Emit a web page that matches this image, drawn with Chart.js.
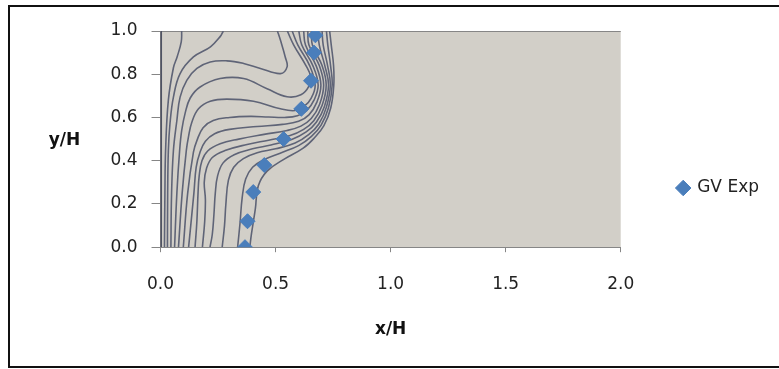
<!DOCTYPE html>
<html>
<head>
<meta charset="utf-8">
<script src="https://cdn.jsdelivr.net/npm/chart.js@4.4.1/dist/chart.umd.min.js"></script>
<style>
  html, body { margin: 0; padding: 0; background: #fff; overflow: hidden; }
  #frame { position: absolute; left: 8px; top: 5px; width: 900px; height: 359px; border: 2px solid #111; }
  #myChart { position: absolute; left: 0; top: 0; }
</style>
</head>
<body>
<div id="frame"></div>
<canvas id="myChart" width="779" height="369"></canvas>
<script>
// GV Exp (experimental points)
const gvLabel = 'GV Exp';
const gvX = [0.673, 0.667, 0.654, 0.612, 0.535, 0.451, 0.403, 0.378, 0.367];
const gvY = [0.98, 0.90, 0.77, 0.64, 0.50, 0.38, 0.255, 0.12, 0.0];

const xTickLabels = ['0.0', '0.5', '1.0', '1.5', '2.0'];
const yTickLabels = ['0.0', '0.2', '0.4', '0.6', '0.8', '1.0'];
const xTitle = 'x/H';
const yTitle = 'y/H';

// contour lines behind the points, [x/H, y/H]
const wall = [[0, 0], [0, 1]];
const contourA = [[0.092,1.0],[0.090,0.95],[0.072,0.88],[0.056,0.83],[0.034,0.68],[0.022,0.45],[0.019,0.25],[0.017,0.0]];
const contourB = [[0.273,1.0],[0.259,0.974],[0.217,0.927],[0.143,0.88],[0.085,0.803],[0.056,0.694],[0.041,0.571],[0.034,0.447],[0.031,0.25],[0.030,0.0]];
const contourW1 = [[0.508,1.0],[0.521,0.958],[0.542,0.88],[0.55,0.834],[0.521,0.803],[0.434,0.827],[0.361,0.85],[0.288,0.862],[0.216,0.857],[0.158,0.827],[0.114,0.772],[0.085,0.694],[0.071,0.586],[0.056,0.447],[0.048,0.25],[0.045,0.0]];
const contourW2 = [[0.551,1.0],[0.579,0.935],[0.632,0.84],[0.652,0.79],[0.645,0.745],[0.61,0.705],[0.55,0.696],[0.463,0.733],[0.361,0.78],[0.259,0.78],[0.172,0.741],[0.129,0.69],[0.107,0.62],[0.092,0.54],[0.083,0.447],[0.071,0.25],[0.061,0.0]];
const contourW3 = [[0.572,1.0],[0.597,0.935],[0.648,0.84],[0.672,0.75],[0.655,0.69],[0.625,0.652],[0.585,0.632],[0.521,0.64],[0.404,0.675],[0.288,0.685],[0.216,0.675],[0.165,0.64],[0.136,0.578],[0.121,0.508],[0.112,0.447],[0.094,0.25],[0.078,0.0]];
const contourW4 = [[0.601,1.0],[0.614,0.935],[0.662,0.84],[0.685,0.75],[0.667,0.68],[0.635,0.632],[0.595,0.608],[0.54,0.6],[0.47,0.602],[0.39,0.605],[0.30,0.6],[0.229,0.586],[0.185,0.553],[0.158,0.493],[0.143,0.44],[0.118,0.25],[0.099,0.0]];
const contourW5 = [[0.622,1.0],[0.63,0.935],[0.676,0.84],[0.697,0.75],[0.679,0.67],[0.645,0.612],[0.6,0.582],[0.53,0.568],[0.42,0.558],[0.3,0.545],[0.235,0.525],[0.195,0.49],[0.172,0.44],[0.155,0.37],[0.145,0.25],[0.122,0.0]];
const contourW6 = [[0.640,1.0],[0.645,0.935],[0.69,0.84],[0.709,0.75],[0.691,0.66],[0.655,0.595],[0.61,0.56],[0.55,0.54],[0.45,0.522],[0.34,0.5],[0.259,0.478],[0.205,0.445],[0.18,0.4],[0.168,0.33],[0.163,0.25],[0.158,0.12],[0.15,0.0]];
const contourW7 = [[0.657,1.0],[0.66,0.935],[0.702,0.84],[0.72,0.75],[0.702,0.655],[0.666,0.585],[0.622,0.545],[0.56,0.515],[0.47,0.495],[0.376,0.475],[0.28,0.447],[0.225,0.415],[0.2,0.365],[0.19,0.3],[0.195,0.22],[0.192,0.12],[0.182,0.0]];
const contourW8 = [[0.684,1.0],[0.69,0.935],[0.714,0.84],[0.73,0.75],[0.712,0.65],[0.677,0.578],[0.633,0.533],[0.57,0.498],[0.48,0.473],[0.4,0.455],[0.32,0.428],[0.272,0.39],[0.248,0.33],[0.238,0.25],[0.232,0.15],[0.225,0.06],[0.215,0.0]];
const contourW9 = [[0.702,1.0],[0.707,0.935],[0.726,0.84],[0.738,0.75],[0.721,0.648],[0.688,0.57],[0.645,0.522],[0.585,0.482],[0.5,0.455],[0.42,0.437],[0.36,0.41],[0.318,0.37],[0.295,0.31],[0.284,0.2],[0.278,0.1],[0.268,0.0]];
const contourL = [[0.721,1.0],[0.727,0.935],[0.739,0.84],[0.746,0.75],[0.73,0.645],[0.698,0.565],[0.656,0.513],[0.6,0.47],[0.52,0.435],[0.45,0.405],[0.4,0.37],[0.37,0.315],[0.355,0.23],[0.345,0.106],[0.335,0.0]];
const contourR = [[0.735,1.0],[0.742,0.935],[0.752,0.84],[0.753,0.75],[0.74,0.645],[0.71,0.562],[0.668,0.505],[0.62,0.458],[0.534,0.405],[0.463,0.352],[0.425,0.284],[0.412,0.177],[0.395,0.06],[0.388,0.0]];

const contours = [contourA, contourB, contourW1, contourW2, contourW3, contourW4, contourW5,
  contourW6, contourW7, contourW8, contourW9, contourL, contourR];

Chart.defaults.font.family = '"DejaVu Sans", sans-serif';
Chart.defaults.font.size = 17;
Chart.defaults.color = '#222';

const plotBackground = {
  id: 'plotBackground',
  beforeDraw(chart) {
    const { ctx, chartArea: a } = chart;
    ctx.save();
    ctx.fillStyle = '#d2cfc8';
    ctx.fillRect(a.left, a.top, a.width, a.height);
    ctx.restore();
  },
  afterDraw(chart) {
    // the y title is written flat, not turned
    const { ctx, chartArea: a } = chart;
    ctx.save();
    ctx.font = 'bold 17px "DejaVu Sans", sans-serif';
    ctx.fillStyle = '#111';
    ctx.textAlign = 'center';
    ctx.textBaseline = 'middle';
    ctx.fillText(yTitle, a.left - 96, (a.top + a.bottom) / 2 + 1.5);
    ctx.restore();
  }
};

const lineDatasets = contours.map((c, i) => ({
  label: 'contour' + i,
  data: c.map(p => ({ x: p[0], y: p[1] })),
  showLine: true,
  pointRadius: 0,
  borderColor: '#5f6477',
  borderWidth: 1.6,
  tension: 0.4,
  fill: false
}));

const ctx = document.getElementById('myChart').getContext('2d');

let myChart = new Chart(ctx, {
  type: 'scatter',
  data: {
    datasets: [
      {
        label: gvLabel,
        data: gvX.map((x, i) => ({ x: x, y: gvY[i] })),
        pointStyle: 'rectRot',
        pointRadius: 7.5,
        backgroundColor: '#4a7ebb',
        borderColor: '#4a7ebb',
        borderWidth: 1
      },
      ...lineDatasets,
      {
        label: 'wall',
        data: wall.map(p => ({ x: p[0], y: p[1] })),
        showLine: true,
        pointRadius: 0,
        borderColor: '#4f5363',
        borderWidth: 3
      }
    ]
  },
  options: {
    responsive: false,
    animation: false,
    layout: { padding: { top: 31, left: 96.5, right: 10, bottom: 24 } },
    scales: {
      x: {
        type: 'linear',
        min: 0,
        max: 2,
        ticks: { stepSize: 0.5, padding: 22, callback: (v, i) => xTickLabels[i] },
        grid: { drawOnChartArea: false, tickLength: 5, tickColor: '#868686' },
        border: { color: '#868686' },
        title: { display: true, text: xTitle, color: '#111', font: { weight: 'bold', size: 17 }, padding: { top: 3, bottom: 5 } }
      },
      y: {
        min: 0,
        max: 1,
        ticks: { stepSize: 0.2, padding: 14, callback: (v, i) => yTickLabels[i] },
        grid: {
          color: c => (c.tick && c.tick.value === 1 ? '#868686' : 'rgba(0,0,0,0)'),
          tickColor: '#868686',
          tickLength: 9
        },
        border: { color: '#868686' }
      }
    },
    plugins: {
      legend: {
        position: 'right',
        labels: {
          usePointStyle: true,
          boxWidth: 11,
          boxHeight: 11,
          padding: 57,
          color: '#222',
          filter: item => item.text === gvLabel
        }
      },
      tooltip: { enabled: false }
    }
  },
  plugins: [plotBackground]
});
</script>
</body>
</html>
